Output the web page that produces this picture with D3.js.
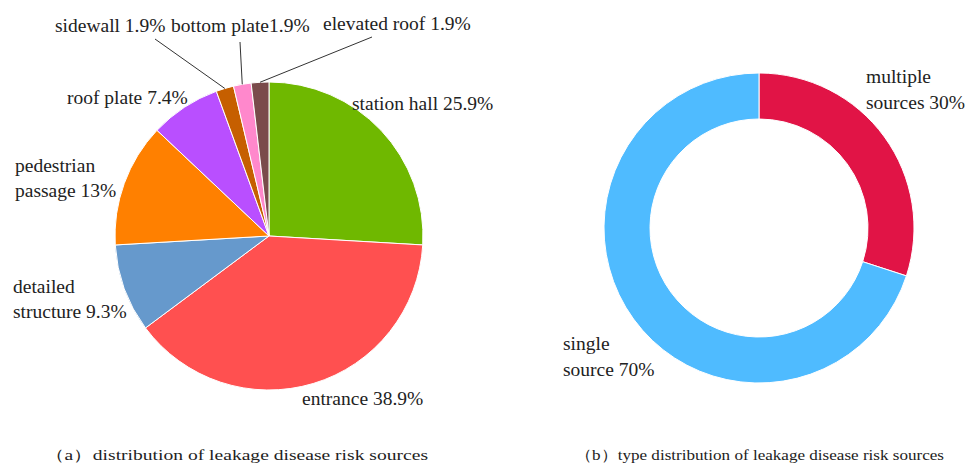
<!DOCTYPE html>
<html>
<head>
<meta charset="utf-8">
<script src="https://cdn.jsdelivr.net/npm/d3@7"></script>
<style>
  body { margin: 0; background: #fff; }
</style>
</head>
<body>
<div id="chart"></div>
<script>
// (a) risk sources
var sources = ["station hall", "entrance", "detailed structure", "pedestrian passage",
               "roof plate", "sidewall", "bottom plate", "elevated roof"];
var sourceCounts = [14, 21, 5, 7, 4, 1, 1, 1];
var sourceLabels = [["station hall 25.9%"], ["entrance 38.9%"], ["detailed", "structure 9.3%"],
                    ["pedestrian", "passage 13%"], ["roof plate 7.4%"], ["sidewall 1.9%"],
                    ["bottom plate1.9%"], ["elevated roof 1.9%"]];
var sourceColors = ["#6fb800", "#ff5050", "#6699cc", "#ff8000", "#b94fff", "#c65f00", "#ff88cc", "#7a4b4b"];

// (b) source types
var types = ["multiple sources", "single source"];
var typeShares = [30, 70];
var typeLabels = [["multiple", "sources 30%"], ["single", "source 70%"]];
var typeColors = ["#e11446", "#4fbbff"];

var captions = ["\uFF08a\uFF09distribution of leakage disease risk sources",
                "\uFF08b\uFF09type distribution of leakage disease risk sources"];

var W = 979, H = 465;
var FONT = "'Liberation Serif', Tinos, 'Times New Roman', serif";
var svg = d3.select("#chart").append("svg").attr("width", W).attr("height", H);

// label anchors relative to pie centre (layout only), leader line start where drawn
var pieLayout = [
  {x: 83, y: -126},
  {x: 33, y: 169},
  {x: -256, y: 57},
  {x: -254, y: -64},
  {x: -202, y: -132},
  {x: -214, y: -204, line: [-114, -197]},
  {x: -98, y: -204, line: [-29, -194]},
  {x: 54, y: -206, line: [103, -199]}
];

var pieC = {x: 269, y: 236}, pieR = 154;
var g1 = svg.append("g").attr("transform", "translate(" + pieC.x + "," + pieC.y + ")");
var pie = d3.pie().sort(null);
var arcs1 = pie(sourceCounts);
var arc1 = d3.arc().innerRadius(0).outerRadius(pieR);
var edge1 = d3.arc().innerRadius(pieR).outerRadius(pieR);

g1.selectAll("path.slice")
  .data(arcs1)
  .enter().append("path")
  .attr("class", "slice")
  .attr("d", arc1)
  .attr("fill", function(d, i) { return sourceColors[i]; })
  .attr("stroke", "#fff")
  .attr("stroke-width", 1);

arcs1.forEach(function(d, i) {
  var L = pieLayout[i];
  if (L.line) {
    var p = edge1.centroid(d);
    g1.append("line")
      .attr("x1", L.line[0]).attr("y1", L.line[1])
      .attr("x2", p[0]).attr("y2", p[1])
      .attr("stroke", "#333").attr("stroke-width", 1);
  }
  var t = g1.append("text")
    .attr("x", L.x).attr("y", L.y)
    .style("font-family", FONT)
    .style("font-size", "19.5px")
    .attr("fill", "#222");
  sourceLabels[i].forEach(function(s, k) {
    t.append("tspan").attr("x", L.x).attr("dy", k == 0 ? 0 : 25).text(s);
  });
});

// donut
var donutC = {x: 759, y: 228}, outerR = 155, innerR = 109;
var g2 = svg.append("g").attr("transform", "translate(" + donutC.x + "," + donutC.y + ")");
var arcs2 = pie(typeShares);
var arc2 = d3.arc().innerRadius(innerR).outerRadius(outerR);

g2.selectAll("path.ring")
  .data(arcs2)
  .enter().append("path")
  .attr("class", "ring")
  .attr("d", arc2)
  .attr("fill", function(d, i) { return typeColors[i]; })
  .attr("stroke", "#fff")
  .attr("stroke-width", 1);

var donutLayout = [{x: 107, y: -145}, {x: -196, y: 122}];
arcs2.forEach(function(d, i) {
  var L = donutLayout[i];
  var t = g2.append("text").attr("x", L.x).attr("y", L.y)
    .style("font-family", FONT).style("font-size", "19.5px").attr("fill", "#222");
  typeLabels[i].forEach(function(s, k) {
    t.append("tspan").attr("x", L.x).attr("dy", k == 0 ? 0 : 26).text(s);
  });
});

// captions
var capPos = [{x: 45, w: 383}, {x: 575, w: 369}];
captions.forEach(function(c, i) {
  svg.append("text")
    .attr("x", capPos[i].x).attr("y", 460)
    .attr("textLength", capPos[i].w)
    .attr("lengthAdjust", "spacingAndGlyphs")
    .style("font-family", FONT)
    .style("font-size", "15px")
    .attr("fill", "#222")
    .text(c);
});
</script>
</body>
</html>
